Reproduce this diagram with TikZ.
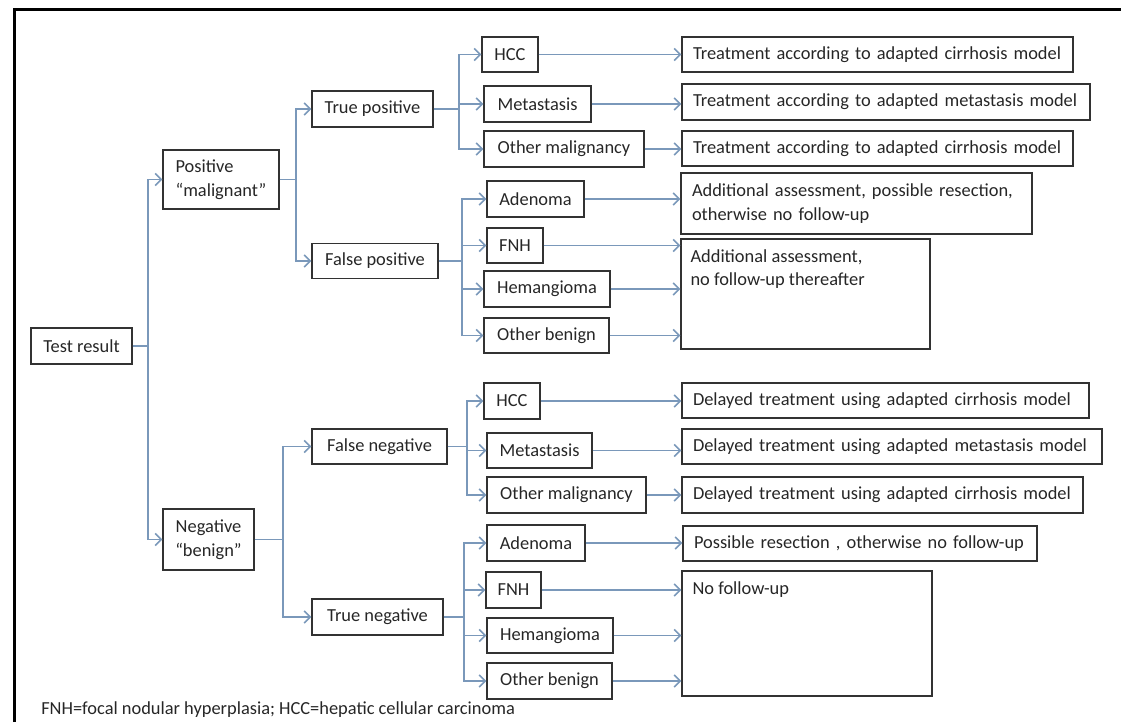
\documentclass[tikz,border=0pt]{standalone}
\usepackage{fontspec}
\setmainfont{Carlito}
\usetikzlibrary{arrows.meta}
\definecolor{conn}{RGB}{122,152,186}
\definecolor{txt}{RGB}{38,38,38}
\definecolor{boxc}{RGB}{50,50,50}
\begin{document}
\begin{tikzpicture}[x=0.75pt,y=-0.75pt,
  font=\fontsize{13.8}{17.6}\selectfont,
  bx/.style 2 args={draw=boxc, line width=1.1pt, inner sep=0pt, text=txt,
    minimum width=#1*0.75pt, minimum height=#2*0.75pt},
  lbx/.style 2 args={bx={#1}{#2}, align=left,
    /utils/exec={\pgfmathsetlengthmacro\mytw{(#1-22)*0.75pt}}, text width=\mytw},
  ln/.style={draw=conn, line width=1.1pt},
  ar/.style={draw=conn, line width=1.1pt, -{Straight Barb[length=4.5pt,width=9pt]}},
  toplbl/.style={anchor=north west, inner sep=0pt, align=left, text=txt, xshift=#1}
]
\useasboundingbox (0,0) rectangle (1121,722);
\draw[line width=2.25pt] (14,722) -- (14,9) -- (1121,9);

% level 0-2
\node[bx={101}{36}] (test) at (81.5,346) {Test result};
\node[bx={116}{59}, align=left] (pos) at (221,179.5) {Positive\\“malignant”};
\node[bx={91}{61}, align=center] (neg) at (208.5,539.5) {Negative\\“benign”};
\node[bx={121}{36}] (tp) at (372.5,109) {True positive};
\node[bx={126}{35}] (fp) at (375,261) {False positive};
\node[bx={135}{35}] (fn) at (379.5,446.5) {False negative};
\node[bx={131}{36}] (tn) at (377.5,617) {True negative};

% leaves
\node[bx={56}{35}] (hccA) at (510,54.5) {HCC};
\node[bx={107}{36}] (metA) at (537.5,104) {Metastasis};
\node[bx={160}{36}] (omA) at (564,149) {Other malignancy};
\node[bx={97}{36}] (adA) at (535.5,199) {Adenoma};
\node[bx={56}{35}] (fnhA) at (515,245.5) {FNH};
\node[bx={126}{36}] (hemA) at (547,289) {Hemangioma};
\node[bx={125}{35}] (obA) at (546.5,335.5) {Other benign};
\node[bx={56}{36}] (hccB) at (512,401) {HCC};
\node[bx={105}{35}] (metB) at (539.5,450.5) {Metastasis};
\node[bx={159}{36}] (omB) at (566.5,495) {Other malignancy};
\node[bx={98}{36}] (adB) at (536,543) {Adenoma};
\node[bx={55}{36}] (fnhB) at (513.5,590) {FNH};
\node[bx={126}{35}] (hemB) at (550,635.5) {Hemangioma};
\node[bx={125}{36}] (obB) at (549.5,681) {Other benign};

% outcomes
\node[lbx={391}{35}] (tA1) at (877.5,54.5) {\mbox{Treatment according to adapted cirrhosis model}};
\node[lbx={408}{36}] (tA2) at (886,102) {\mbox{Treatment according to adapted metastasis model}};
\node[lbx={391}{35}] (tA3) at (877.5,148.5) {\mbox{Treatment according to adapted cirrhosis model}};
\node[lbx={351}{61}] (aaA) at (856.5,203.5) {\mbox{Additional assessment, possible resection,}\\\mbox{otherwise no follow-up}};
\node[bx={249}{110}, label={[toplbl=7.5pt, yshift=-8.25pt]north west:{Additional assessment,\\no follow-up thereafter}}] (aaB) at (805.5,294) {};
\node[lbx={407}{35}] (dB1) at (885.5,400.5) {\mbox{Delayed treatment using adapted cirrhosis model}};
\node[lbx={420}{35}] (dB2) at (892,446.5) {\mbox{Delayed treatment using adapted metastasis model}};
\node[lbx={401}{36}] (dB3) at (882.5,495) {\mbox{Delayed treatment using adapted cirrhosis model}};
\node[lbx={354}{35}] (prB) at (860,543.5) {\mbox{Possible resection , otherwise no follow-up}};
\node[bx={250}{125}, label={[toplbl=8.25pt, yshift=-8.25pt]north west:{No follow-up}}] (nfB) at (807,633.5) {};

\node[anchor=base west, inner sep=0pt, text=txt] (foot) at (41,714) {FNH=focal nodular hyperplasia; HCC=hepatic cellular carcinoma};

% junctions
\coordinate (j0) at (148,346);
\coordinate (j1) at (296,179.5);
\coordinate (j2) at (283,539.5);
\coordinate (j3) at (459,109);
\coordinate (j4) at (462,261);
\coordinate (j5) at (467,446.5);
\coordinate (j6) at (464,617);

\draw[ln] (test.east) -- (j0);
\draw[ar] (j0) |- (pos.west);
\draw[ar] (j0) |- (neg.west);
\draw[ln] (pos.east) -- (j1);
\draw[ar] (j1) |- (tp.west);
\draw[ar] (j1) |- (fp.west);
\draw[ln] (neg.east) -- (j2);
\draw[ar] (j2) |- (fn.west);
\draw[ar] (j2) |- (tn.west);

\draw[ln] (tp.east) -- (j3);
\draw[ar] (j3) |- (hccA.west);
\draw[ar] (j3) |- (metA.west);
\draw[ar] (j3) |- (omA.west);
\draw[ln] (fp.east) -- (j4);
\draw[ar] (j4) |- (adA.west);
\draw[ar] (j4) |- (fnhA.west);
\draw[ar] (j4) |- (hemA.west);
\draw[ar] (j4) |- (obA.west);
\draw[ln] (fn.east) -- (j5);
\draw[ar] (j5) |- (hccB.west);
\draw[ar] (j5) |- (metB.west);
\draw[ar] (j5) |- (omB.west);
\draw[ln] (tn.east) -- (j6);
\draw[ar] (j6) |- (adB.west);
\draw[ar] (j6) |- (fnhB.west);
\draw[ar] (j6) |- (hemB.west);
\draw[ar] (j6) |- (obB.west);

\draw[ar] (hccA.east) -- (hccA.east -| tA1.west);
\draw[ar] (metA.east) -- (metA.east -| tA2.west);
\draw[ar] (omA.east) -- (omA.east -| tA3.west);
\draw[ar] (adA.east) -- (adA.east -| aaA.west);
\draw[ar] (fnhA.east) -- (fnhA.east -| aaB.west);
\draw[ar] (hemA.east) -- (hemA.east -| aaB.west);
\draw[ar] (obA.east) -- (obA.east -| aaB.west);
\draw[ar] (hccB.east) -- (hccB.east -| dB1.west);
\draw[ar] (metB.east) -- (metB.east -| dB2.west);
\draw[ar] (omB.east) -- (omB.east -| dB3.west);
\draw[ar] (adB.east) -- (adB.east -| prB.west);
\draw[ar] (fnhB.east) -- (fnhB.east -| nfB.west);
\draw[ar] (hemB.east) -- (hemB.east -| nfB.west);
\draw[ar] (obB.east) -- (obB.east -| nfB.west);
\end{tikzpicture}
\end{document}
